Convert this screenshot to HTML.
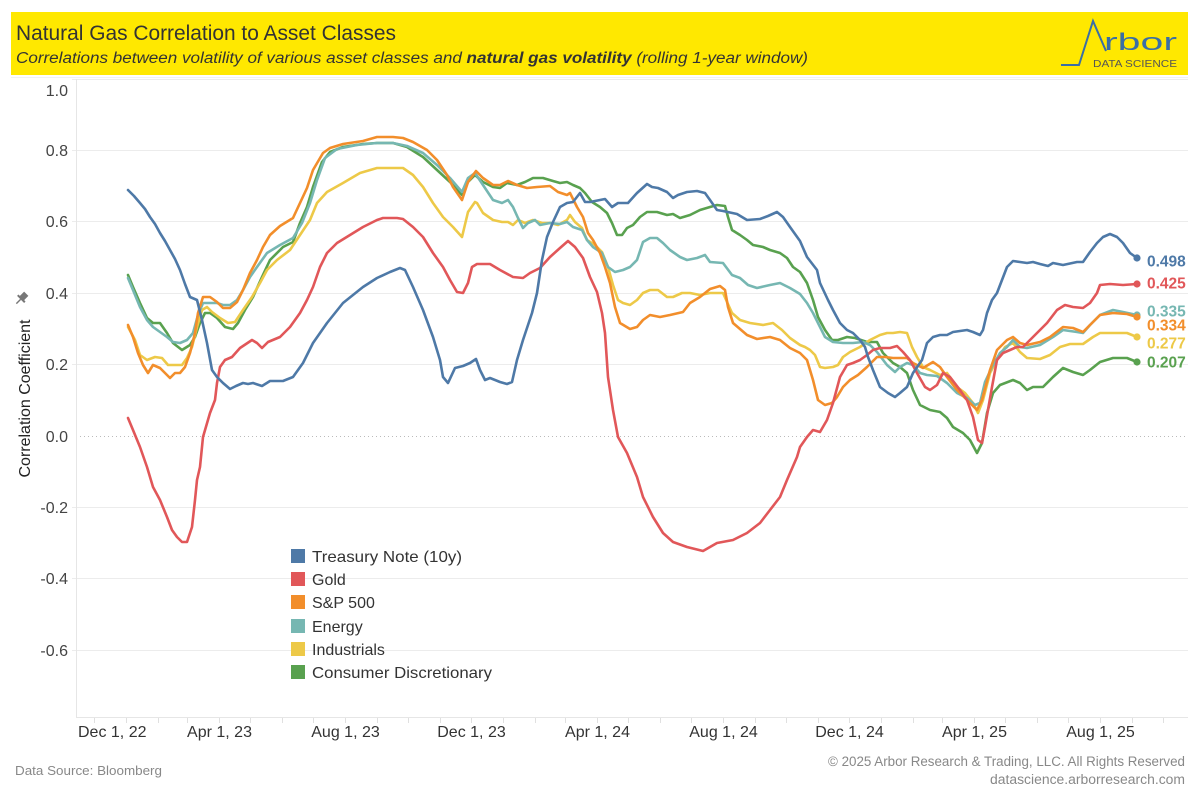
<!DOCTYPE html>
<html><head><meta charset="utf-8"><style>
html,body{margin:0;padding:0;background:#fff;}
svg{display:block;font-family:"Liberation Sans",Arial,sans-serif;}
</style></head><body>
<svg width="1200" height="800" viewBox="0 0 1200 800" xmlns="http://www.w3.org/2000/svg">
<rect x="0" y="0" width="1200" height="800" fill="#fff"/>
<!-- header -->
<rect x="11" y="12" width="1177" height="63" fill="#ffe800"/>
<text x="16" y="40" font-size="21" fill="#333" textLength="380" lengthAdjust="spacingAndGlyphs">Natural Gas Correlation to Asset Classes</text>
<text x="16" y="63" font-size="15.5" font-style="italic" fill="#333" textLength="792" lengthAdjust="spacingAndGlyphs">Correlations between volatility of various asset classes and <tspan font-weight="bold">natural gas volatility</tspan>  (rolling 1-year window)</text>
<!-- logo -->
<polyline points="1061,65 1079,65 1093,21 1106,51" fill="none" stroke="#3a6ea5" stroke-width="2"/>
<text x="1104" y="50" font-size="24" fill="#3a6ea5" textLength="73" lengthAdjust="spacingAndGlyphs">rbor</text>
<text x="1093" y="67" font-size="10.5" fill="#555" textLength="84" lengthAdjust="spacingAndGlyphs">DATA SCIENCE</text>
<line x1="11" y1="77.5" x2="1188" y2="77.5" stroke="#f2f2f2" stroke-width="1"/>

<!-- gridlines -->
<g stroke="#ececec" stroke-width="1">
<line x1="72" y1="79.5" x2="1188" y2="79.5"/>
<line x1="72" y1="150.5" x2="1188" y2="150.5"/>
<line x1="72" y1="221.5" x2="1188" y2="221.5"/>
<line x1="72" y1="293.5" x2="1188" y2="293.5"/>
<line x1="72" y1="364.5" x2="1188" y2="364.5"/>
<line x1="72" y1="507.5" x2="1188" y2="507.5"/>
<line x1="72" y1="578.5" x2="1188" y2="578.5"/>
<line x1="72" y1="650.5" x2="1188" y2="650.5"/>
</g>
<line x1="76" y1="436.5" x2="1188" y2="436.5" stroke="#bbb" stroke-width="1" stroke-dasharray="1,3"/>
<!-- axes -->
<line x1="76.5" y1="79" x2="76.5" y2="717" stroke="#e6e6e6" stroke-width="1"/>
<line x1="76" y1="717.5" x2="1188" y2="717.5" stroke="#e6e6e6" stroke-width="1"/>
<g stroke="#e0e0e0" stroke-width="1">
<line x1="94.5" y1="718" x2="94.5" y2="723"/><line x1="126.5" y1="718" x2="126.5" y2="723"/><line x1="158.5" y1="718" x2="158.5" y2="723"/><line x1="187.5" y1="718" x2="187.5" y2="723"/><line x1="219.5" y1="718" x2="219.5" y2="723"/><line x1="250.5" y1="718" x2="250.5" y2="723"/><line x1="282.5" y1="718" x2="282.5" y2="723"/><line x1="313.5" y1="718" x2="313.5" y2="723"/><line x1="345.5" y1="718" x2="345.5" y2="723"/><line x1="377.5" y1="718" x2="377.5" y2="723"/><line x1="408.5" y1="718" x2="408.5" y2="723"/><line x1="440.5" y1="718" x2="440.5" y2="723"/><line x1="471.5" y1="718" x2="471.5" y2="723"/><line x1="503.5" y1="718" x2="503.5" y2="723"/><line x1="535.5" y1="718" x2="535.5" y2="723"/><line x1="565.5" y1="718" x2="565.5" y2="723"/><line x1="597.5" y1="718" x2="597.5" y2="723"/><line x1="628.5" y1="718" x2="628.5" y2="723"/><line x1="660.5" y1="718" x2="660.5" y2="723"/><line x1="691.5" y1="718" x2="691.5" y2="723"/><line x1="723.5" y1="718" x2="723.5" y2="723"/><line x1="755.5" y1="718" x2="755.5" y2="723"/><line x1="786.5" y1="718" x2="786.5" y2="723"/><line x1="818.5" y1="718" x2="818.5" y2="723"/><line x1="849.5" y1="718" x2="849.5" y2="723"/><line x1="881.5" y1="718" x2="881.5" y2="723"/><line x1="913.5" y1="718" x2="913.5" y2="723"/><line x1="942.5" y1="718" x2="942.5" y2="723"/><line x1="974.5" y1="718" x2="974.5" y2="723"/><line x1="1005.5" y1="718" x2="1005.5" y2="723"/><line x1="1037.5" y1="718" x2="1037.5" y2="723"/><line x1="1068.5" y1="718" x2="1068.5" y2="723"/><line x1="1100.5" y1="718" x2="1100.5" y2="723"/><line x1="1132.5" y1="718" x2="1132.5" y2="723"/><line x1="1163.5" y1="718" x2="1163.5" y2="723"/>
</g>
<!-- y labels -->
<g font-size="16" fill="#444" text-anchor="end">
<text x="68" y="96">1.0</text>
<text x="68" y="156">0.8</text>
<text x="68" y="227">0.6</text>
<text x="68" y="299">0.4</text>
<text x="68" y="370">0.2</text>
<text x="68" y="442">0.0</text>
<text x="68" y="513">-0.2</text>
<text x="68" y="584">-0.4</text>
<text x="68" y="656">-0.6</text>
</g>
<!-- x labels -->
<g font-size="16" fill="#333" text-anchor="middle">
<text x="78" y="737" text-anchor="start">Dec 1, 22</text>
<text x="219.5" y="737">Apr 1, 23</text>
<text x="345.5" y="737">Aug 1, 23</text>
<text x="471.5" y="737">Dec 1, 23</text>
<text x="597.5" y="737">Apr 1, 24</text>
<text x="723.5" y="737">Aug 1, 24</text>
<text x="849.5" y="737">Dec 1, 24</text>
<text x="974.5" y="737">Apr 1, 25</text>
<text x="1100.5" y="737">Aug 1, 25</text>
</g>
<!-- y title -->
<text transform="translate(30,398.5) rotate(-90)" font-size="16" fill="#222" text-anchor="middle">Correlation Coefficient</text>
<g transform="translate(22,298) rotate(45)" fill="#777">
<rect x="-3" y="-6" width="6" height="7"/>
<rect x="-5" y="0" width="10" height="2"/>
<rect x="-0.7" y="2" width="1.4" height="6"/>
</g>

<!-- series -->
<g fill="none" stroke-width="2.6" stroke-linejoin="round" stroke-linecap="round">
<polyline stroke="#59a14f" points="128,275 133,287 140,303 147,318 153,323 160,323 167,333 173,343 182,350 190,345 195,337 200,323 205,313 210,313 217,318 225,327 233,329 238,323 245,310 253,297 262,277 270,260 283,247 293,242 300,223 307,207 313,187 322,162 330,152 343,147 363,144 377,143 393,143 407,147 423,157 437,170 450,182 462,195 468,182 475,175 483,182 493,187 500,188 507,183 517,185 525,182 533,178 543,178 553,181 560,183 567,182 573,185 580,188 585,193 592,202 600,207 607,213 612,223 617,235 622,235 627,228 633,225 640,217 647,212 657,212 667,215 673,214 680,218 690,215 700,210 710,207 717,205 725,206 728,217 732,230 740,235 747,240 753,245 763,247 770,250 780,253 787,258 793,267 800,272 807,283 813,300 818,317 825,330 832,340 838,340 847,337 855,338 867,342 877,342 883,353 893,363 900,367 907,373 913,390 920,405 930,410 940,412 947,418 953,427 963,433 970,440 977,453 982,443 987,413 993,393 1000,385 1013,380 1020,383 1027,390 1033,387 1043,387 1053,377 1063,368 1073,372 1083,375 1090,370 1100,362 1113,358 1127,358 1137,362"/>
<polyline stroke="#edc948" points="128,327 135,340 140,355 147,360 155,357 162,358 168,365 175,365 182,365 187,358 192,347 197,327 202,310 207,307 212,312 220,318 228,323 235,322 243,310 252,297 260,283 267,270 277,260 290,250 300,235 310,220 317,203 327,192 343,183 360,173 377,168 393,168 403,168 413,175 423,187 433,203 443,217 453,227 462,237 468,212 475,202 477,203 483,213 493,220 502,222 508,222 513,225 518,220 525,223 533,220 542,223 550,223 558,225 567,220 570,215 575,222 582,228 587,240 595,245 602,252 608,267 613,285 618,300 623,303 630,305 637,300 643,293 650,290 658,290 667,297 673,297 682,293 690,293 700,295 710,293 723,293 732,313 740,320 750,323 763,325 773,323 782,330 790,338 800,345 805,347 810,350 815,355 820,367 825,368 833,367 838,365 843,357 850,352 860,347 870,340 880,335 887,333 893,333 900,332 907,333 912,347 917,357 923,367 930,370 940,375 947,373 957,387 965,393 973,403 978,413 983,400 990,373 997,360 1005,347 1013,343 1020,352 1027,358 1040,359 1050,355 1060,347 1070,344 1083,344 1093,337 1100,333 1113,333 1127,333 1137,337"/>
<polyline stroke="#76b7b2" points="128,278 133,290 140,307 147,320 153,327 160,332 167,337 173,342 180,343 187,340 193,333 198,315 203,303 210,303 217,303 223,305 230,305 237,300 243,290 250,277 257,267 267,253 280,245 293,238 302,223 310,203 317,180 325,158 337,149 357,145 377,143 393,143 407,146 423,153 437,165 450,178 462,192 468,178 475,173 483,185 493,200 502,203 508,200 513,207 518,218 523,228 528,223 535,220 540,225 550,223 560,224 567,222 573,227 582,230 587,240 593,247 602,253 608,267 615,272 623,270 630,267 637,260 643,242 650,238 657,238 663,243 670,250 680,257 687,260 697,258 705,255 710,262 723,263 732,275 740,278 748,285 757,288 770,285 780,283 790,288 800,294 807,303 813,313 818,323 825,337 833,342 843,343 853,343 863,342 870,345 877,352 887,365 895,372 900,367 907,363 913,365 920,373 927,375 937,376 947,383 957,393 967,398 975,405 980,403 985,382 992,367 1000,353 1007,347 1013,340 1020,347 1027,348 1040,345 1053,337 1063,330 1077,332 1083,333 1090,325 1100,315 1113,310 1123,312 1137,315"/>
<polyline stroke="#f28e2b" points="128,325 133,337 138,353 143,365 148,373 153,365 160,368 165,373 170,378 175,373 180,373 185,367 190,353 195,333 198,313 203,297 210,297 217,302 223,308 230,308 237,302 243,290 250,273 257,260 263,247 270,235 280,226 293,218 300,203 307,188 313,170 323,153 330,148 343,144 363,141 377,137 393,137 403,138 413,142 427,150 437,160 447,175 453,187 462,200 468,182 476,171 483,178 493,185 500,185 508,181 517,185 527,188 537,187 550,186 558,192 567,195 570,193 577,207 583,217 588,233 593,240 600,253 605,267 610,283 615,307 620,323 630,329 637,327 643,320 650,315 660,317 670,315 683,312 690,303 700,297 710,289 720,286 725,290 728,307 733,323 747,335 757,339 770,337 780,340 790,348 800,353 807,360 813,380 818,400 825,405 832,403 837,397 843,387 850,380 858,375 867,367 877,357 885,357 893,358 907,358 913,363 923,368 933,362 940,367 947,377 957,390 967,400 977,410 982,400 990,370 997,350 1007,340 1013,337 1020,343 1027,345 1040,342 1050,337 1063,327 1073,328 1083,332 1093,322 1100,315 1113,313 1127,314 1137,317"/>
<polyline stroke="#e15759" points="128,418 133,430 140,447 147,467 153,487 160,500 167,517 172,530 177,537 182,542 187,542 192,527 195,500 197,480 200,467 203,437 210,413 215,400 217,383 220,367 225,360 232,357 240,348 252,340 257,343 262,348 268,342 280,337 290,327 300,313 307,300 313,287 320,267 327,253 337,243 350,235 363,227 377,220 383,218 397,218 403,219 413,227 423,237 433,253 443,267 450,280 457,292 463,293 468,283 472,267 477,264 490,264 500,270 513,277 523,278 530,273 540,268 550,257 560,248 568,241 575,247 583,258 590,277 597,292 602,313 605,333 608,377 613,410 618,437 627,453 637,477 643,497 653,517 663,533 673,542 687,547 703,551 717,543 733,540 747,533 760,523 770,510 780,497 787,480 797,457 800,447 807,437 813,430 820,432 827,420 833,403 840,377 847,365 853,363 860,360 867,355 873,350 880,348 890,348 897,346 903,352 910,360 917,373 925,387 930,390 937,385 943,373 950,377 960,390 967,400 973,417 978,440 982,443 985,427 992,387 997,360 1003,353 1010,350 1017,347 1023,347 1030,340 1037,333 1047,323 1057,310 1065,305 1073,307 1083,308 1090,303 1097,293 1100,285 1110,284 1123,285 1137,284"/>
<polyline stroke="#4e79a7" points="128,190 134,196 140,203 145,209 150,217 155,224 160,233 165,241 170,250 175,259 180,270 185,284 190,297 197,300 202,320 207,343 212,370 217,377 223,383 230,389 236,386 243,383 248,384 253,383 262,386 270,381 283,381 293,377 303,363 313,343 327,323 343,303 363,287 377,278 390,272 400,268 405,270 413,287 423,310 433,337 440,360 443,377 448,383 455,368 463,366 470,363 476,359 480,370 485,380 490,378 500,382 507,384 512,382 517,360 523,340 532,313 537,293 542,260 547,237 553,222 560,207 567,203 573,202 580,193 585,202 590,202 600,200 605,199 612,207 618,203 628,203 637,193 647,184 652,187 658,188 667,192 673,198 678,195 687,192 697,191 705,193 710,200 717,210 723,211 737,214 747,220 760,219 768,216 777,212 783,217 790,227 800,241 807,257 817,270 820,283 828,300 833,310 840,323 847,330 853,333 860,340 865,347 868,357 873,370 880,387 888,393 895,397 900,393 907,387 913,373 922,360 927,343 933,337 940,335 947,335 953,332 967,330 973,332 980,335 983,330 987,313 992,300 997,293 1002,280 1007,267 1013,261 1020,262 1027,263 1033,262 1040,264 1048,266 1053,263 1063,265 1077,262 1083,262 1090,252 1097,243 1103,237 1110,234 1117,237 1123,243 1130,253 1137,258"/>
</g>
<!-- end dots -->
<circle cx="1137" cy="362" r="3.6" fill="#59a14f"/>
<circle cx="1137" cy="337" r="3.6" fill="#edc948"/>
<circle cx="1137" cy="315" r="3.6" fill="#76b7b2"/>
<circle cx="1137" cy="317" r="3.6" fill="#f28e2b"/>
<circle cx="1137" cy="284" r="3.6" fill="#e15759"/>
<circle cx="1137" cy="258" r="3.6" fill="#4e79a7"/>
<!-- end labels -->
<g font-size="15.5" font-weight="bold">
<text x="1147" y="266.5" fill="#4e79a7">0.498</text>
<text x="1147" y="288.5" fill="#e15759">0.425</text>
<text x="1147" y="316.5" fill="#76b7b2">0.335</text>
<text x="1147" y="330.5" fill="#f28e2b">0.334</text>
<text x="1147" y="348.5" fill="#edc948">0.277</text>
<text x="1147" y="367.5" fill="#59a14f">0.207</text>
</g>
<!-- legend -->
<g font-size="16" fill="#333">
<rect x="291" y="549" width="14" height="14" fill="#4e79a7"/><text x="312" y="562" textLength="150" lengthAdjust="spacingAndGlyphs">Treasury Note (10y)</text>
<rect x="291" y="572" width="14" height="14" fill="#e15759"/><text x="312" y="585">Gold</text>
<rect x="291" y="595" width="14" height="14" fill="#f28e2b"/><text x="312" y="608">S&amp;P 500</text>
<rect x="291" y="619" width="14" height="14" fill="#76b7b2"/><text x="312" y="632">Energy</text>
<rect x="291" y="642" width="14" height="14" fill="#edc948"/><text x="312" y="655">Industrials</text>
<rect x="291" y="665" width="14" height="14" fill="#59a14f"/><text x="312" y="678" textLength="180" lengthAdjust="spacingAndGlyphs">Consumer Discretionary</text>
</g>
<!-- footer -->
<text x="15" y="775" font-size="13" fill="#888" textLength="147" lengthAdjust="spacingAndGlyphs">Data Source: Bloomberg</text>
<text x="1185" y="766" font-size="13.5" fill="#888" text-anchor="end" textLength="357" lengthAdjust="spacingAndGlyphs">© 2025 Arbor Research &amp; Trading, LLC. All Rights Reserved</text>
<text x="1185" y="784" font-size="13.5" fill="#888" text-anchor="end" textLength="195" lengthAdjust="spacingAndGlyphs">datascience.arborresearch.com</text>
</svg>
</body></html>
